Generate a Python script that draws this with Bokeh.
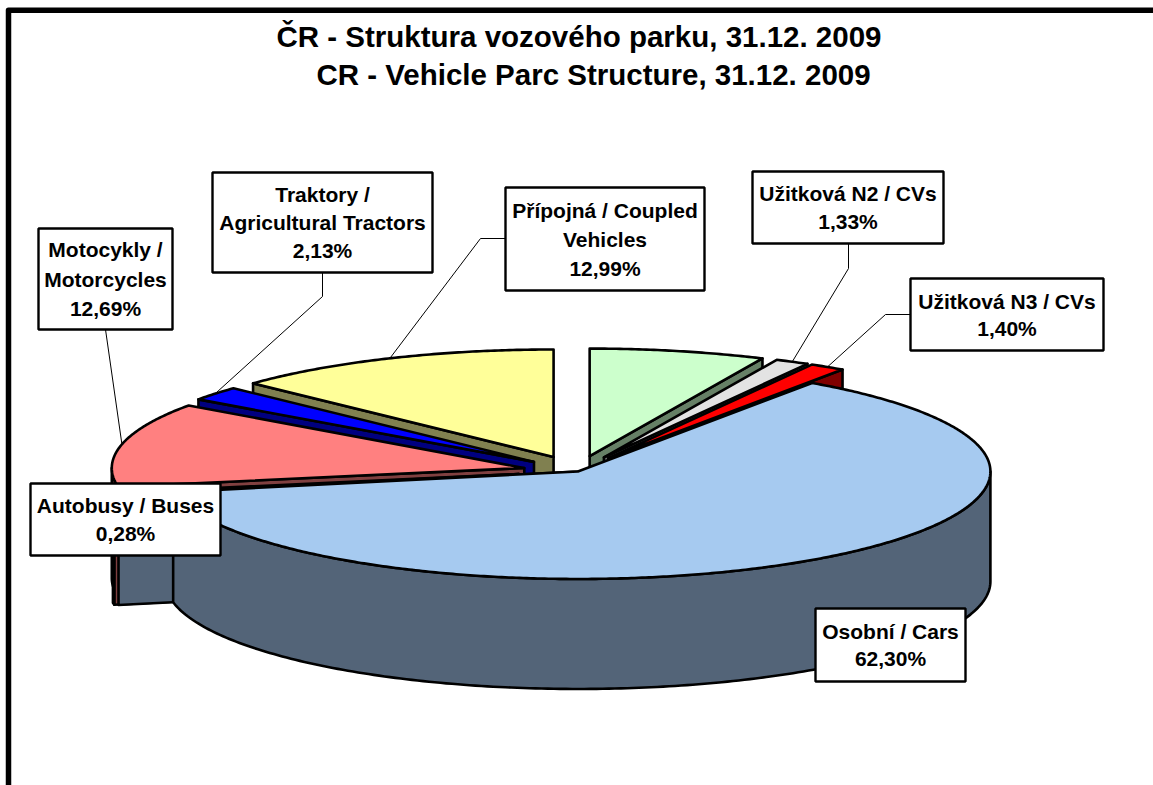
import numpy as np
from bokeh.embed import file_html
from bokeh.models import ColumnDataSource, Range1d
from bokeh.plotting import figure
from bokeh.resources import INLINE
from bokeh.core.properties import value

# ---- data, clockwise from twelve o'clock ----
SLICES = ["Užitková N1", "Užitková N2", "Užitková N3", "Osobní", "Autobusy",
          "Motocykly", "Traktory", "Přípojná"]
SHARES = [6.88, 1.33, 1.40, 62.30, 0.28, 12.69, 2.13, 12.99]
LABEL_LINES = [
    None,
    ["Užitková N2 / CVs"],
    ["Užitková N3 / CVs"],
    ["Osobní / Cars"],
    ["Autobusy / Buses"],
    ["Motocykly /", "Motorcycles"],
    ["Traktory /", "Agricultural Tractors"],
    ["Přípojná / Coupled", "Vehicles"],
]
TITLE_LINES = ["ČR - Struktura vozového parku, 31.12. 2009",
               "CR - Vehicle Parc Structure, 31.12. 2009"]

# ---- styling and layout ----
TOP = ["#CCFFCC", "#E3E3E3", "#FF0000", "#A6CAF0", "#804040", "#FF8080", "#0000FF", "#FFFF99"]
SIDE = ["#668066", "#727272", "#800000", "#536478", "#804040", "#804040", "#000080", "#808050"]
EXPLODE = [0.143, 0.143, 0.143, 0.004, 0.143, 0.131, 0.135, 0.143]
REACH = [1, 1, 1, 1.135, 1, 1, 1, 1]          # how far the visible cut face runs, in radii
DRAW_ORDER = [7, 0, 1, 2, 6, 5, 4, 3]
CX, CY, RX, RY, DEPTH = 576.5, 470.6, 412.5, 107.5, 110.0

# label box (left, top, right, bottom), line gap, leader start and elbow
BOX = {
    1: (752, 171, 943, 243), 2: (910, 278, 1103, 350), 3: (815, 608, 965, 681),
    4: (30, 483, 220, 555), 5: (38, 228, 172, 329), 6: (212, 172, 432, 272), 7: (505, 187, 704, 290),
}
LEADER_START = {1: (848, 243), 2: (910, 314), 5: (105, 329), 6: (322, 272), 7: (505, 238)}
LEADER_ELBOW = {1: (848, 268), 2: (885, 314), 6: (322, 296), 7: (480, 238)}
LINE_GAP = {1: 28, 2: 27, 3: 27, 4: 28, 5: 29.5, 6: 28, 7: 29}

p = figure(width=1153, height=785, x_range=Range1d(0, 1153), y_range=Range1d(785, 0),
           output_backend="svg", toolbar_location=None, min_border=0,
           margin=0, background_fill_color="white", border_fill_color="white",
           outline_line_color=None)
p.xaxis.visible = False
p.yaxis.visible = False
p.grid.visible = False

# ---- pie geometry from the shares ----
edges = np.concatenate([[0], np.cumsum(SHARES)]) * 3.6


def rim(cx, cy, deg, reach=1.0):
    t = np.radians(deg)
    return cx + reach * RX * np.sin(t), cy - reach * RY * np.cos(t)


xs, ys, fills = [], [], []
anchors = {}
for i in DRAW_ORDER:
    a, b = edges[i], edges[i + 1]
    mid = (a + b) / 2
    m = np.radians(mid)
    cx = CX + EXPLODE[i] * RX * np.sin(m)
    cy = CY - EXPLODE[i] * RY * np.cos(m)
    anchors[i] = rim(cx, cy, mid)

    # visible cut face
    cut = b if mid < 180 else a
    ex, ey = rim(cx, cy, cut, REACH[i])
    xs.append([cx, ex, ex, cx])
    ys.append([cy, ey, ey + DEPTH, cy + DEPTH])
    fills.append(SIDE[i])

    # outer wall on the near half
    lo, hi = max(a, 90), min(b, 270)
    if hi > lo:
        t = np.linspace(lo, hi, 200)
        wx, wy = rim(cx, cy, t)
        xs.append(list(wx) + list(wx[::-1]))
        ys.append(list(wy) + list((wy + DEPTH)[::-1]))
        fills.append(SIDE[i])

    # top face
    t = np.linspace(a, b, max(int(b - a) * 2, 6))
    tx, ty = rim(cx, cy, t)
    xs.append([cx] + list(tx))
    ys.append([cy] + list(ty))
    fills.append(TOP[i])

p.patches("xs", "ys", source=ColumnDataSource(dict(xs=xs, ys=ys, fill=fills)),
          fill_color="fill", line_color="black", line_width=2.6, line_join="round")

# ---- leaders ----
for i, start in LEADER_START.items():
    pts = [start] + ([LEADER_ELBOW[i]] if i in LEADER_ELBOW else []) + [anchors[i]]
    p.line([q[0] for q in pts], [q[1] for q in pts], line_color="black", line_width=1)

# ---- label boxes and texts ----
for i, (l, t, r, bt) in BOX.items():
    p.quad(left=[l], right=[r], top=[t], bottom=[bt], fill_color="white", line_color="black", line_width=2.4)
    lines = LABEL_LINES[i] + [f"{SHARES[i]:.2f}".replace(".", ",") + "%"]
    gap = LINE_GAP[i]
    mid_y = (t + bt) / 2
    n = len(lines)
    ty = [mid_y + (k - (n - 1) / 2) * gap for k in range(n)]
    p.text(x=[(l + r) / 2] * n, y=ty, text=lines, text_font=value("Liberation Sans"),
           text_font_style="bold", text_font_size="21px", text_color="black",
           text_align="center", text_baseline="middle")

# ---- title ----
p.text(x=[578.5, 593], y=[36, 74], text=TITLE_LINES, text_font=value("Liberation Sans"),
       text_font_style="bold", text_font_size="29.5px", text_color="black",
       text_align="center", text_baseline="middle")

# ---- chart frame, cut off on the right and bottom ----
p.line([8, 8, 1153], [785, 9.7, 9.7], line_color="black", line_width=5.5, line_join="round")

open("out.html", "w").write(file_html(p, INLINE))
